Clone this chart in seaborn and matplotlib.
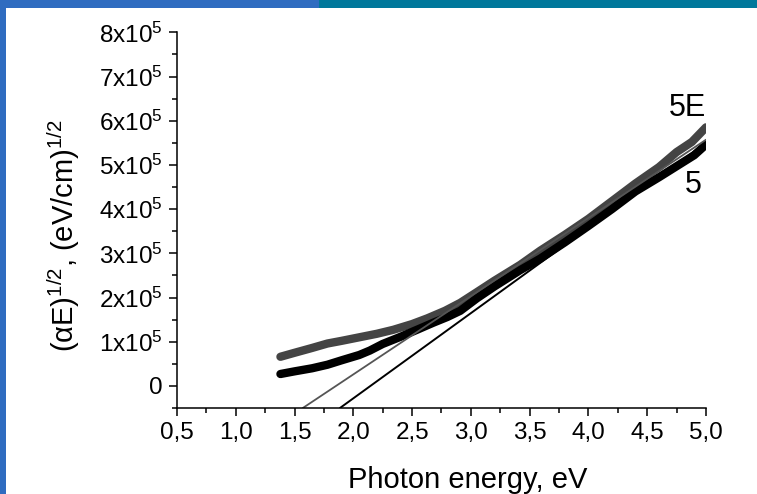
import numpy as np
import pandas as pd
import seaborn as sns
import matplotlib.pyplot as plt
from matplotlib.patches import Rectangle
from matplotlib.ticker import MultipleLocator, FuncFormatter

# -------------------------
# data (y values in units of 1e5)
# -------------------------
x_5E = [1.38, 1.50, 1.65, 1.78, 1.90, 2.05, 2.20, 2.34, 2.50, 2.63, 2.78, 2.91,
        3.05, 3.20, 3.42, 3.59, 3.80, 4.00, 4.20, 4.40, 4.60, 4.75, 4.88, 5.00]
y_5E = [0.66, 0.75, 0.86, 0.96, 1.02, 1.10, 1.18, 1.27, 1.40, 1.53, 1.70, 1.88,
        2.12, 2.38, 2.74, 3.06, 3.42, 3.78, 4.18, 4.58, 4.95, 5.29, 5.52, 5.85]

x_5 = [1.38, 1.50, 1.65, 1.78, 1.90, 2.05, 2.14, 2.25, 2.40, 2.55, 2.68, 2.80,
       2.91, 3.05, 3.20, 3.42, 3.59, 3.80, 4.00, 4.20, 4.40, 4.60, 4.78, 4.90, 5.00]
y_5 = [0.27, 0.33, 0.40, 0.48, 0.58, 0.70, 0.80, 0.95, 1.11, 1.28, 1.43, 1.56,
       1.70, 1.98, 2.25, 2.62, 2.88, 3.25, 3.62, 4.00, 4.40, 4.72, 5.02, 5.22, 5.46]

# linear fits (tangent lines)
fit_5E_x = [1.57, 5.0]
fit_5E_y = [-0.5, 5.57]
fit_5_x = [1.886, 5.0]
fit_5_y = [-0.5, 5.5]

curve_labels = ["5E", "5"]

# -------------------------
# style
# -------------------------
sns.set_style("ticks")
plt.rcParams["font.family"] = ["Liberation Sans", "DejaVu Sans"]
plt.rcParams["mathtext.fontset"] = "custom"
plt.rcParams["mathtext.rm"] = "Liberation Sans"
plt.rcParams["mathtext.it"] = "Liberation Sans:italic"
plt.rcParams["mathtext.bf"] = "Liberation Sans:bold"
plt.rcParams["text.color"] = "black"
plt.rcParams["axes.labelcolor"] = "black"
plt.rcParams["xtick.color"] = "black"
plt.rcParams["ytick.color"] = "black"
plt.rcParams["axes.edgecolor"] = "black"

fig = plt.figure(figsize=(7.57, 4.94), dpi=100)
ax = fig.add_axes([0.2338, 0.174, 0.6988, 0.7606])

sc = 1e5
sns.lineplot(x=x_5E, y=np.array(y_5E) * sc, ax=ax, color="#444444", lw=6,
             sort=False, solid_capstyle="round")
sns.lineplot(x=x_5, y=np.array(y_5) * sc, ax=ax, color="#000000", lw=6,
             sort=False, solid_capstyle="round")
sns.lineplot(x=fit_5E_x, y=np.array(fit_5E_y) * sc, ax=ax, color="#555555",
             lw=1.3, sort=False)
sns.lineplot(x=fit_5_x, y=np.array(fit_5_y) * sc, ax=ax, color="#000000",
             lw=1.4, sort=False)

ax.set_xlim(0.5, 5.0)
ax.set_ylim(-0.5e5, 8e5)
sns.despine(ax=ax)
for s in ["left", "bottom"]:
    ax.spines[s].set_linewidth(1.1)

ax.xaxis.set_major_locator(MultipleLocator(0.5))
ax.xaxis.set_minor_locator(MultipleLocator(0.25))
ax.yaxis.set_major_locator(MultipleLocator(1e5))
ax.yaxis.set_minor_locator(MultipleLocator(0.5e5))
ax.xaxis.set_major_formatter(FuncFormatter(lambda v, p: f"{v:.1f}".replace(".", ",")))


def yfmt(v, p):
    n = int(round(v / 1e5))
    if n == 0:
        return "0"
    return f"{n}x10$^{{5}}$"


ax.yaxis.set_major_formatter(FuncFormatter(yfmt))
ax.tick_params(which="major", direction="out", length=6, width=1.1,
               labelsize=17.5, pad=4)
ax.tick_params(which="minor", direction="out", length=3.5, width=1.1)

ax.set_xlabel("Photon energy, eV", fontsize=21)
ax.xaxis.set_label_coords(0.55, -0.155)
ax.set_ylabel("(αE)$^{1/2}$, (eV/cm)$^{1/2}$", fontsize=21)
ax.yaxis.set_label_coords(-0.18, 0.46)

ax.text(4.84, 6.29e5, curve_labels[0], fontsize=22, ha="center", va="center")
ax.text(4.89, 4.55e5, curve_labels[1], fontsize=22, ha="center", va="center")

# slide decoration bars
fig.add_artist(Rectangle((0, 0), 6 / 757, 1, transform=fig.transFigure,
                         color="#2f6cc0", lw=0))
fig.add_artist(Rectangle((0, 1 - 8 / 494), 319 / 757, 8 / 494,
                         transform=fig.transFigure, color="#2f6cc0", lw=0))
fig.add_artist(Rectangle((319 / 757, 1 - 8 / 494), 1 - 319 / 757, 8 / 494,
                         transform=fig.transFigure, color="#00789b", lw=0))

fig.savefig("out.png", dpi=100)
